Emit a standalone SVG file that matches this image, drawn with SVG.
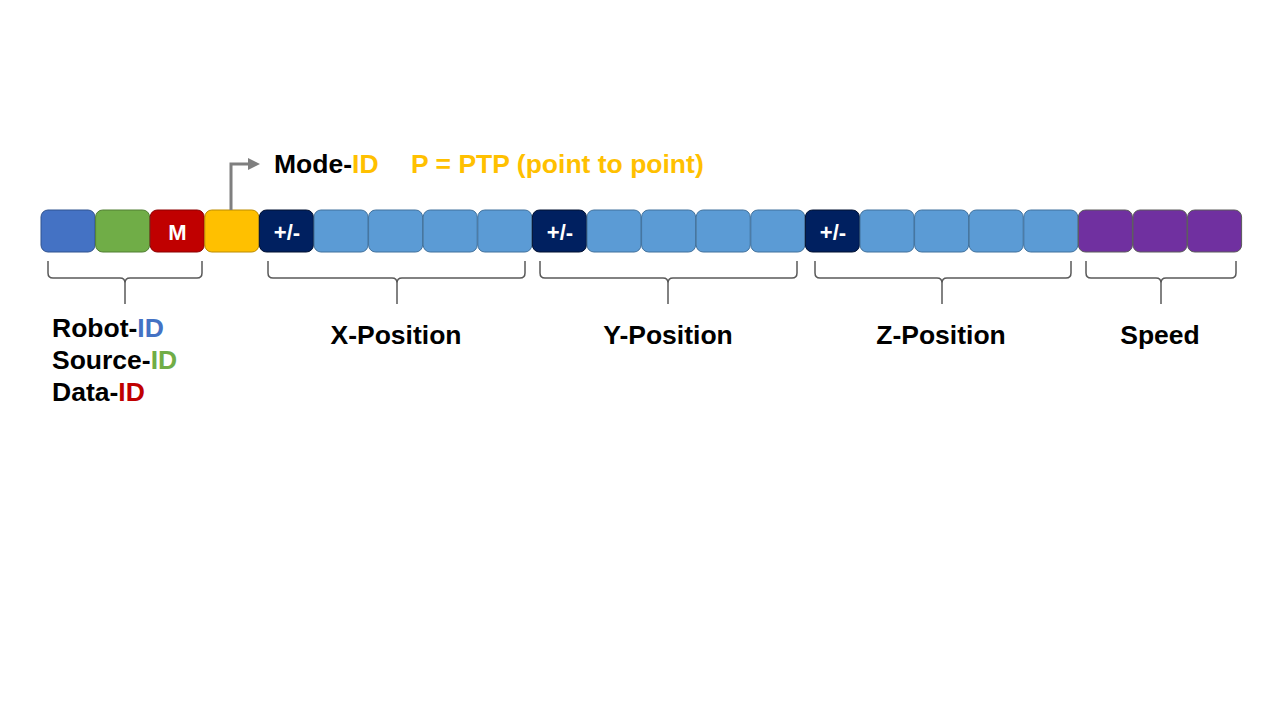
<svg xmlns="http://www.w3.org/2000/svg" width="1280" height="720" viewBox="0 0 1280 720">
<style>
text{font-family:"Liberation Sans",Arial,sans-serif;font-weight:bold}
.lbl{font-size:26.5px;fill:#000}
.in{font-size:22px;fill:#fff;text-anchor:middle}
.br{fill:none;stroke:#595959;stroke-width:1.5}
.b{stroke-width:1}
.blue{fill:#4472C4;stroke:#2F528F}
.green{fill:#70AD47;stroke:#507E32}
.red{fill:#C00000;stroke:#8C0000}
.yel{fill:#FFC000;stroke:#BC8C00}
.navy{fill:#002060;stroke:#001030}
.lb{fill:#5B9BD5;stroke:#41719C}
.pur{fill:#7030A0;stroke:#5A5A5A}
</style>
<defs>
<marker id="ah" markerWidth="4" markerHeight="4" refX="2" refY="2" orient="auto" markerUnits="strokeWidth">
<path d="M0,0 L4,2 L0,4 z" fill="#7F7F7F"/>
</marker>
</defs>
<rect width="1280" height="720" fill="#fff"/>
<g id="fields">
<rect class="b blue" x="41" y="210" width="54" height="42" rx="7"/>
<rect class="b green" x="95.6" y="210" width="54" height="42" rx="7"/>
<g id="data-id"><rect class="b red" x="150.2" y="210" width="54" height="42" rx="7"/><text class="in" x="177.5" y="240">M</text></g>
<rect class="b yel" x="204.8" y="210" width="54" height="42" rx="7"/>
<g id="x-sign"><rect class="b navy" x="259.4" y="210" width="54" height="42" rx="7"/><text class="in" x="287" y="240">+/-</text></g>
<rect class="b lb" x="314" y="210" width="54" height="42" rx="7"/>
<rect class="b lb" x="368.6" y="210" width="54" height="42" rx="7"/>
<rect class="b lb" x="423.2" y="210" width="54" height="42" rx="7"/>
<rect class="b lb" x="477.8" y="210" width="54" height="42" rx="7"/>
<g id="y-sign"><rect class="b navy" x="532.4" y="210" width="54" height="42" rx="7"/><text class="in" x="560" y="240">+/-</text></g>
<rect class="b lb" x="587" y="210" width="54" height="42" rx="7"/>
<rect class="b lb" x="641.6" y="210" width="54" height="42" rx="7"/>
<rect class="b lb" x="696.2" y="210" width="54" height="42" rx="7"/>
<rect class="b lb" x="750.8" y="210" width="54" height="42" rx="7"/>
<g id="z-sign"><rect class="b navy" x="805.4" y="210" width="54" height="42" rx="7"/><text class="in" x="833" y="240">+/-</text></g>
<rect class="b lb" x="860" y="210" width="54" height="42" rx="7"/>
<rect class="b lb" x="914.6" y="210" width="54" height="42" rx="7"/>
<rect class="b lb" x="969.2" y="210" width="54" height="42" rx="7"/>
<rect class="b lb" x="1023.8" y="210" width="54" height="42" rx="7"/>
<rect class="b pur" x="1078.4" y="210" width="54" height="42" rx="7"/>
<rect class="b pur" x="1133" y="210" width="54" height="42" rx="7"/>
<rect class="b pur" x="1187.6" y="210" width="54" height="42" rx="7"/>
</g>
<g id="connectors">
<path d="M231,210 V164 H254" fill="none" stroke="#7F7F7F" stroke-width="3" marker-end="url(#ah)"/>
<path class="br" d="M48,261 V273 Q48,278 53,278 H120 Q125,278 125,283 V304 M125,283 Q125,278 130,278 H197 Q202,278 202,273 V261"/>
<path class="br" d="M268,261 V273 Q268,278 273,278 H392 Q397,278 397,283 V304 M397,283 Q397,278 402,278 H520 Q525,278 525,273 V261"/>
<path class="br" d="M540,261 V273 Q540,278 545,278 H663 Q668,278 668,283 V304 M668,283 Q668,278 673,278 H792 Q797,278 797,273 V261"/>
<path class="br" d="M815,261 V273 Q815,278 820,278 H937 Q942,278 942,283 V304 M942,283 Q942,278 947,278 H1066 Q1071,278 1071,273 V261"/>
<path class="br" d="M1086,261 V273 Q1086,278 1091,278 H1156 Q1161,278 1161,283 V304 M1161,283 Q1161,278 1166,278 H1231 Q1236,278 1236,273 V261"/>
</g>
<g id="mode-label">
<text class="lbl" x="274" y="173">Mode-<tspan fill="#FFC000">ID</tspan></text>
<text class="lbl" x="411" y="173" style="fill:#FFC000">P = PTP (point to point)</text>
</g>
<g id="id-labels">
<text class="lbl" x="52" y="337">Robot-<tspan fill="#4472C4">ID</tspan></text>
<text class="lbl" x="52" y="369">Source-<tspan fill="#70AD47">ID</tspan></text>
<text class="lbl" x="52" y="401">Data-<tspan fill="#C00000">ID</tspan></text>
</g>
<g id="pos-labels">
<text class="lbl" x="396" y="344" text-anchor="middle">X-Position</text>
<text class="lbl" x="668" y="344" text-anchor="middle">Y-Position</text>
<text class="lbl" x="941" y="344" text-anchor="middle">Z-Position</text>
<text class="lbl" x="1160" y="344" text-anchor="middle">Speed</text>
</g>
</svg>
